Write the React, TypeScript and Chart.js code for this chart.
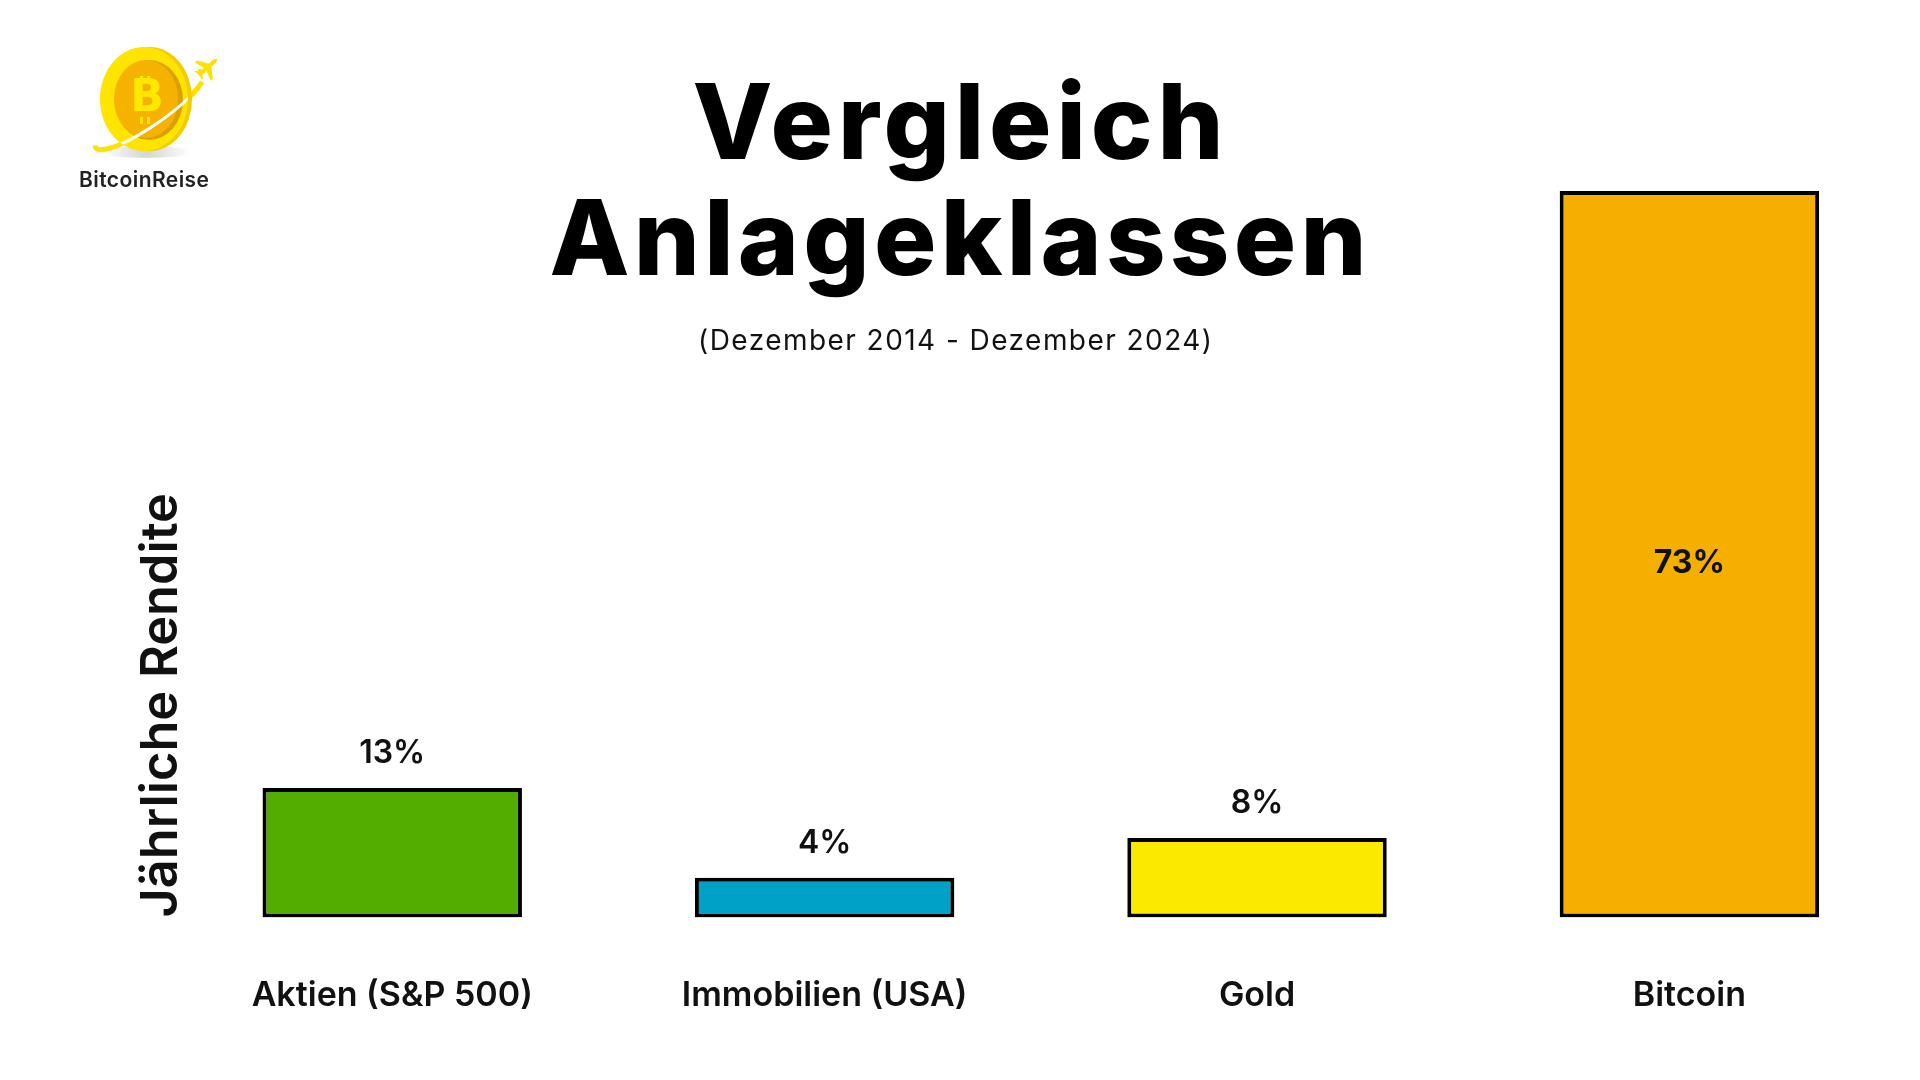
import { useEffect, useRef } from 'react';
import { Chart, registerables } from 'chart.js';

Chart.register(...registerables);

// ---- data ----
const categories = ['Aktien (S&P 500)', 'Immobilien (USA)', 'Gold', 'Bitcoin'];
const returns = [13, 4, 8, 73];
const barColors = ['#52AD00', '#00A1C6', '#FCE900', '#F5AF00'];
const titleLines = ['Vergleich', 'Anlageklassen'];
const subtitleText = '(Dezember 2014 - Dezember 2024)';
const yAxisTitle = 'Jährliche Rendite';
const brandName = 'BitcoinReise';

const FONT = 'Inter, "Noto Sans", "DejaVu Sans", sans-serif';

function fitText(
  ctx: CanvasRenderingContext2D,
  text: string,
  cx: number,
  baseline: number,
  width: number,
  font: string,
  color: string
) {
  ctx.save();
  ctx.font = font;
  ctx.fillStyle = color;
  ctx.textAlign = 'left';
  ctx.textBaseline = 'alphabetic';
  (ctx as any).letterSpacing = '0px';
  const w0 = ctx.measureText(text).width;
  const n = Array.from(text).length;
  const s = n > 1 ? (width - w0) / (n - 1) : 0;
  (ctx as any).letterSpacing = s + 'px';
  ctx.fillText(text, cx - width / 2, baseline);
  ctx.restore();
}

function drawLogo(ctx: CanvasRenderingContext2D) {
  ctx.save();
  // shadow
  const g = ctx.createRadialGradient(146, 152, 2, 146, 152, 44);
  g.addColorStop(0, 'rgba(0,0,0,0.16)');
  g.addColorStop(1, 'rgba(0,0,0,0)');
  ctx.fillStyle = g;
  ctx.beginPath();
  ctx.ellipse(146, 152, 44, 6, 0, 0, Math.PI * 2);
  ctx.fill();

  // orbit ring
  const rc = { x: 150, y: 110, rx: 66, ry: 15, rot: -0.61 };
  ctx.strokeStyle = '#FFE000';
  ctx.lineWidth = 5;
  ctx.beginPath();
  ctx.ellipse(rc.x, rc.y, rc.rx, rc.ry, rc.rot, Math.PI * 0.15, Math.PI * 1.05);
  ctx.stroke();

  // coin edge
  ctx.fillStyle = '#F2CC00';
  ctx.beginPath();
  ctx.ellipse(150, 99, 42, 52, 0, 0, Math.PI * 2);
  ctx.fill();
  // coin rim
  ctx.fillStyle = '#FFE400';
  ctx.beginPath();
  ctx.ellipse(144, 99, 44, 52, 0, 0, Math.PI * 2);
  ctx.fill();
  // inner face shadow
  ctx.fillStyle = '#DDA000';
  ctx.beginPath();
  ctx.ellipse(149, 100, 34, 40, 0, 0, Math.PI * 2);
  ctx.fill();
  ctx.fillStyle = '#F5B300';
  ctx.beginPath();
  ctx.ellipse(146, 99, 32, 39, 0, 0, Math.PI * 2);
  ctx.fill();

  // B symbol
  ctx.fillStyle = '#FFE800';
  ctx.font = 'bold 44px "DejaVu Sans", sans-serif';
  ctx.textAlign = 'center';
  ctx.textBaseline = 'middle';
  ctx.fillText('B', 147, 100);
  ctx.fillRect(140, 76, 3, 7);
  ctx.fillRect(147, 76, 3, 7);
  ctx.fillRect(140, 117, 3, 7);
  ctx.fillRect(147, 117, 3, 7);

  // front part of the orbit across the coin
  ctx.save();
  ctx.beginPath();
  ctx.ellipse(144, 99, 44, 52, 0, 0, Math.PI * 2);
  ctx.clip();
  ctx.strokeStyle = '#FFFFFF';
  ctx.lineWidth = 3;
  ctx.beginPath();
  ctx.ellipse(rc.x, rc.y, rc.rx, rc.ry, rc.rot, 0, Math.PI);
  ctx.stroke();
  ctx.restore();

  // line to the plane
  ctx.strokeStyle = '#FFE000';
  ctx.lineWidth = 2.5;
  ctx.beginPath();
  ctx.ellipse(rc.x, rc.y, rc.rx, rc.ry, rc.rot, -0.35, 0.05);
  ctx.stroke();

  // plane
  ctx.translate(208, 67);
  ctx.rotate(-0.72);
  ctx.fillStyle = '#FFE000';
  ctx.beginPath();
  ctx.moveTo(13, 0);
  ctx.lineTo(9, -2);
  ctx.lineTo(-10, -2);
  ctx.lineTo(-12, 0);
  ctx.lineTo(-10, 2);
  ctx.lineTo(9, 2);
  ctx.closePath();
  ctx.fill();
  ctx.beginPath();
  ctx.moveTo(4, 0);
  ctx.lineTo(-4, -12);
  ctx.lineTo(-7, -12);
  ctx.lineTo(-3, 0);
  ctx.lineTo(-7, 12);
  ctx.lineTo(-4, 12);
  ctx.closePath();
  ctx.fill();
  ctx.beginPath();
  ctx.moveTo(-8, 0);
  ctx.lineTo(-12, -6);
  ctx.lineTo(-13, -6);
  ctx.lineTo(-12, 0);
  ctx.lineTo(-13, 6);
  ctx.lineTo(-12, 6);
  ctx.closePath();
  ctx.fill();
  ctx.restore();
}

const decorPlugin = {
  id: 'decor',
  beforeDraw(chart: any) {
    const ctx: CanvasRenderingContext2D = chart.ctx;
    ctx.save();
    ctx.fillStyle = '#FFFFFF';
    ctx.fillRect(0, 0, chart.width, chart.height);
    ctx.restore();
    drawLogo(ctx);
    fitText(ctx, brandName, 144, 187, 130, `600 21px ${FONT}`, '#222222');
    fitText(ctx, titleLines[0], 958, 159, 531, `800 104px ${FONT}`, '#000000');
    fitText(ctx, titleLines[1], 958, 275, 817, `800 104px ${FONT}`, '#000000');
    fitText(ctx, subtitleText, 955, 350, 514, `400 28px ${FONT}`, '#111111');
  },
};

const valueLabelPlugin = {
  id: 'valueLabels',
  afterDatasetsDraw(chart: any) {
    const ctx: CanvasRenderingContext2D = chart.ctx;
    const meta = chart.getDatasetMeta(0);
    meta.data.forEach((bar: any, i: number) => {
      const { x, y, base } = bar.getProps(['x', 'y', 'base'], true);
      const text = `${returns[i]}%`;
      const inside = base - y > 300;
      ctx.save();
      ctx.fillStyle = '#111111';
      ctx.textAlign = 'center';
      ctx.textBaseline = 'alphabetic';
      if (inside) {
        ctx.font = `700 32px ${FONT}`;
        ctx.fillText(text, x, (y + base) / 2 + 19);
      } else {
        ctx.font = `600 32px ${FONT}`;
        ctx.fillText(text, x, y - 25);
      }
      ctx.restore();
    });
  },
};

export default function App() {
  const canvasRef = useRef<HTMLCanvasElement | null>(null);

  useEffect(() => {
    document.body.style.margin = '0';
    const canvas = canvasRef.current;
    if (!canvas) return;
    const chart = new Chart(canvas, {
      type: 'bar',
      data: {
        labels: categories,
        datasets: [
          {
            data: returns,
            backgroundColor: barColors,
            borderColor: '#000000',
            borderWidth: 4,
            borderSkipped: false,
            barPercentage: 0.6,
            categoryPercentage: 1.0,
          },
        ],
      },
      options: {
        responsive: false,
        animation: false,
        devicePixelRatio: 1,
        layout: { padding: { top: 191, left: 149, right: 14.4, bottom: 5.7 } },
        plugins: {
          legend: { display: false },
          tooltip: { enabled: false },
          title: { display: false },
        },
        scales: {
          x: {
            grid: { display: false, drawTicks: false },
            border: { display: false },
            ticks: {
              color: '#111111',
              font: { family: FONT, size: 34, weight: '600', lineHeight: 1.2 },
              padding: 58,
              maxRotation: 0,
              autoSkip: false,
            },
          },
          y: {
            min: 0,
            max: 73,
            grid: { display: false, drawTicks: false },
            border: { display: false },
            ticks: { display: false },
            title: {
              display: true,
              text: yAxisTitle,
              align: 'start',
              color: '#111111',
              font: { family: FONT, size: 50.5, weight: '600', lineHeight: 0.5 },
              padding: { top: 0, bottom: 1.8 },
            },
          },
        },
      },
      plugins: [decorPlugin, valueLabelPlugin],
    } as any);
    return () => chart.destroy();
  }, []);

  return (
    <div style={{ position: 'absolute', left: 0, top: 0, width: 1920, height: 1080, background: '#fff' }}>
      <canvas ref={canvasRef} width={1920} height={1080} style={{ display: 'block', width: 1920, height: 1080 }} />
    </div>
  );
}
